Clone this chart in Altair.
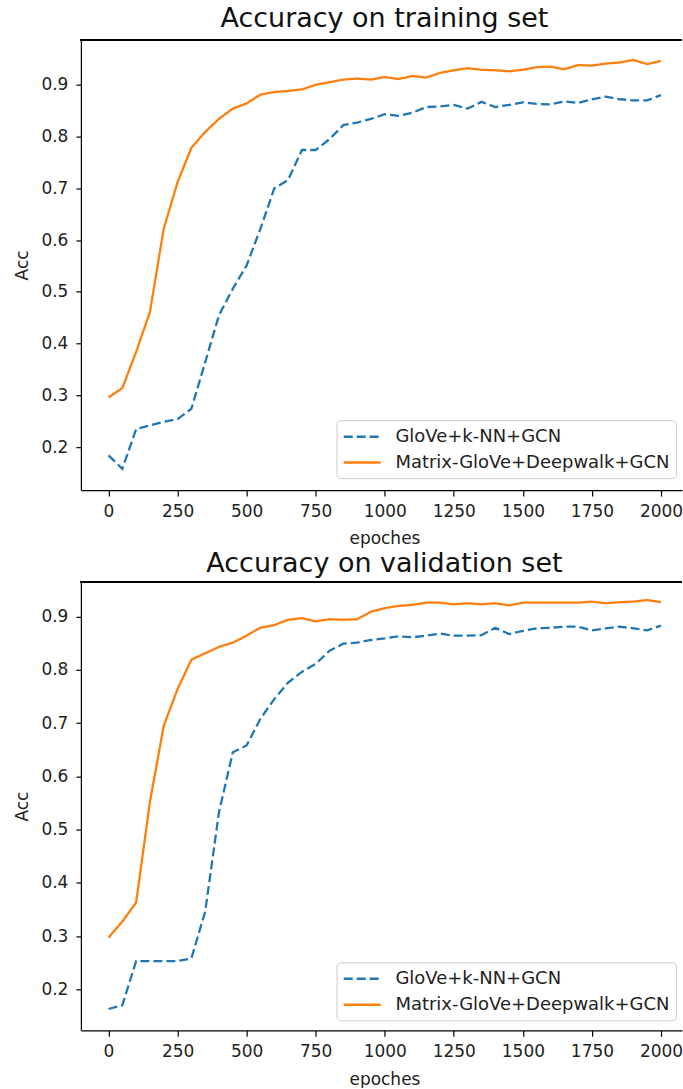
import altair as alt
import pandas as pd

epochs = list(range(0, 2001, 50))
series_names = ["GloVe+k-NN+GCN", "Matrix-GloVe+Deepwalk+GCN"]
series_colors = ["#1f77b4", "#ff7f0e"]
x_ticks = [0, 250, 500, 750, 1000, 1250, 1500, 1750, 2000]
y_ticks = [0.2, 0.3, 0.4, 0.5, 0.6, 0.7, 0.8, 0.9]

train_glove = [0.184, 0.158, 0.235, 0.242, 0.249, 0.254, 0.274, 0.364, 0.455, 0.506,
               0.551, 0.622, 0.700, 0.716, 0.774, 0.774, 0.795, 0.822, 0.827, 0.834,
               0.843, 0.840, 0.846, 0.857, 0.858, 0.861, 0.854, 0.867, 0.857, 0.861,
               0.866, 0.863, 0.862, 0.868, 0.865, 0.872, 0.877, 0.872, 0.870, 0.870,
               0.880]
train_matrix = [0.296, 0.314, 0.384, 0.461, 0.622, 0.712, 0.778, 0.809, 0.834, 0.854,
                0.864, 0.881, 0.886, 0.888, 0.891, 0.900, 0.905, 0.910, 0.912, 0.910,
                0.915, 0.911, 0.917, 0.914, 0.923, 0.928, 0.932, 0.929, 0.928, 0.926,
                0.929, 0.934, 0.935, 0.930, 0.938, 0.937, 0.941, 0.943, 0.948, 0.940,
                0.946]
val_glove = [0.163, 0.170, 0.253, 0.253, 0.253, 0.253, 0.258, 0.346, 0.533, 0.645,
             0.658, 0.708, 0.745, 0.776, 0.796, 0.811, 0.836, 0.849, 0.851, 0.856,
             0.859, 0.863, 0.861, 0.864, 0.868, 0.864, 0.864, 0.865, 0.879, 0.867,
             0.873, 0.878, 0.879, 0.881, 0.881, 0.874, 0.878, 0.881, 0.878, 0.874,
             0.883]
val_matrix = [0.297, 0.327, 0.363, 0.552, 0.695, 0.764, 0.819, 0.831, 0.843, 0.851,
              0.864, 0.879, 0.884, 0.894, 0.897, 0.891, 0.895, 0.894, 0.895, 0.909,
              0.916, 0.920, 0.922, 0.926, 0.926, 0.923, 0.925, 0.923, 0.925, 0.921,
              0.926, 0.926, 0.926, 0.926, 0.926, 0.928, 0.925, 0.927, 0.928, 0.931,
              0.927]

FONT = "DejaVu Sans"
PLOT_W = 602


def panel(title, glove, matrix, ydomain, height, title_offset):
    df = pd.DataFrame({
        "epoch": epochs * 2,
        "acc": glove + matrix,
        "model": [series_names[0]] * len(epochs) + [series_names[1]] * len(epochs),
    })
    legend = alt.Legend(
        title=None, orient="none", legendX=256, legendY=381,
        symbolType="M-1,0H3", symbolSize=342, symbolStrokeWidth=2.5,
        labelFont=FONT, labelFontSize=18, labelColor="#222222", labelOffset=32,
        labelLimit=0, rowPadding=6, padding=6, strokeColor="#cccccc",
        fillColor="white", cornerRadius=4,
    )
    lines = alt.Chart(df).mark_line(strokeWidth=2.3, clip=True).encode(
        x=alt.X("epoch:Q",
                scale=alt.Scale(domain=[-100, 2076], nice=False, zero=False),
                axis=alt.Axis(values=x_ticks, format="d", title="epoches",
                              titleX=304)),
        y=alt.Y("acc:Q",
                scale=alt.Scale(domain=ydomain, nice=False, zero=False),
                axis=alt.Axis(values=y_ticks, format=".1f", title="Acc")),
        color=alt.Color("model:N",
                        scale=alt.Scale(domain=series_names, range=series_colors),
                        legend=legend),
        strokeDash=alt.StrokeDash("model:N",
                                  scale=alt.Scale(domain=series_names,
                                                  range=[[9, 4], [1, 0]]),
                                  legend=legend),
    )
    frame = alt.Chart(df).mark_rule(color="black", strokeWidth=1.2).encode(
        x=alt.value(0), x2=alt.value(PLOT_W), y=alt.value(0)
    )
    return alt.layer(lines, frame).properties(
        width=PLOT_W, height=height,
        title=alt.TitleParams(title, font=FONT, fontSize=27, fontWeight="normal",
                              color="#111111", dx=3, offset=title_offset),
    )


top = panel("Accuracy on training set", train_glove, train_matrix,
            [0.117, 0.987], 451, 6)
bottom = panel("Accuracy on validation set", val_glove, val_matrix,
               [0.123, 0.965], 449, 3)

chart = alt.vconcat(top, bottom, spacing=3).resolve_scale(
    color="independent", strokeDash="independent"
).resolve_legend(
    color="independent", strokeDash="independent"
).properties(
    padding={"left": 13, "top": 4, "right": 0, "bottom": 0}
).configure_view(stroke=None).configure_axis(
    grid=False, domainColor="black", domainWidth=1.2, tickColor="black",
    tickWidth=1.2, labelFont=FONT, labelFontSize=17,
    labelColor="#222222", titleFont=FONT, titleFontSize=17,
    titleFontWeight="normal", titleColor="#222222",
).configure_axisX(tickSize=6, labelPadding=7, titlePadding=12).configure_axisY(
    tickSize=5, labelPadding=8, titlePadding=9)

chart.save("out.html", embed_options={"renderer": "svg", "actions": False})
